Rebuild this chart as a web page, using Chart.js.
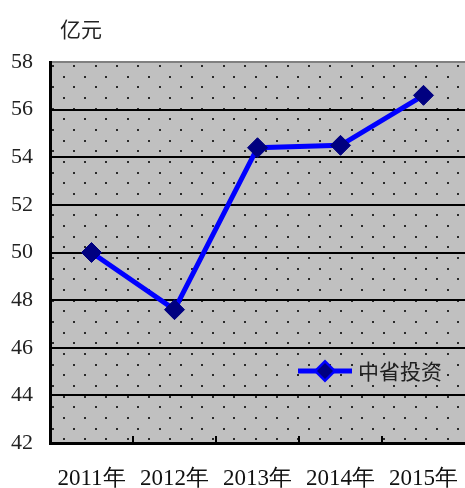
<!DOCTYPE html>
<html>
<head>
<meta charset="utf-8">
<script src="https://cdn.jsdelivr.net/npm/chart.js@4"></script>
<style>
  html, body { margin: 0; padding: 0; background: #fff; overflow: hidden; }
  #wrap { width: 465px; height: 488px; position: relative; }
  canvas { display: block; }
</style>
</head>
<body>
<div id="wrap"><canvas id="c"></canvas></div>
<script>
// ── DATA ──
const years = ['2011年', '2012年', '2013年', '2014年', '2015年'];
const invest = [50.0, 47.6, 54.4, 54.5, 56.6];
const seriesName = '中省投资';
const unitLabel = '亿元';
const yMin = 42, yMax = 58, yStep = 2;

const cjk = '"Noto Sans CJK SC", sans-serif';
const serif = '"Liberation Serif", "DejaVu Serif", serif';

// ── BACKGROUND: grey with staggered dots ──
const dotted = {
  id: 'dotted',
  beforeDraw(chart) {
    const { ctx, chartArea: a } = chart;
    ctx.save();
    ctx.fillStyle = '#c0c0c0';
    ctx.fillRect(a.left, a.top, a.right - a.left, a.bottom - a.top);
    ctx.fillStyle = '#2a2a2a';
    const sx = 21.33, sy = 10.67;
    for (let j = 0, y = a.top + 3; y < a.bottom; j++, y += sy) {
      for (let x = a.left + 2 + (j % 2) * sx / 2; x < a.right; x += sx) {
        ctx.fillRect(Math.round(x), Math.round(y), 2, 2);
      }
    }
    ctx.restore();
  },
  afterDatasetsDraw(chart) {
    // short category ticks rising from the bottom axis
    const { ctx, chartArea: a, scales: { x } } = chart;
    ctx.save();
    ctx.strokeStyle = '#000';
    ctx.lineWidth = 2;
    for (let i = 0; i < years.length - 1; i++) {
      const px = Math.round((x.getPixelForValue(i) + x.getPixelForValue(i + 1)) / 2);
      ctx.beginPath();
      ctx.moveTo(px, a.bottom);
      ctx.lineTo(px, a.bottom - 7);
      ctx.stroke();
    }
    ctx.restore();
  },
  afterDraw(chart) {
    const { ctx } = chart;
    ctx.save();
    // unit label
    ctx.fillStyle = '#222';
    ctx.font = '21px ' + cjk;
    ctx.textBaseline = 'middle';
    ctx.fillText(unitLabel, 60, 29);
    // legend
    const ly = 371;
    ctx.strokeStyle = '#0000ff';
    ctx.lineWidth = 5;
    ctx.beginPath();
    ctx.moveTo(298, ly);
    ctx.lineTo(352, ly);
    ctx.stroke();
    Chart.helpers.drawPoint(ctx, { pointStyle: 'rectRot', radius: 8, borderWidth: 1 }, 325, ly);
    ctx.fillStyle = '#000080';
    ctx.fill();
    ctx.fillStyle = '#222';
    ctx.font = '21px ' + cjk;
    ctx.fillText(seriesName, 358, ly);
    ctx.restore();
  }
};

new Chart(document.getElementById('c'), {
  type: 'line',
  data: {
    labels: years,
    datasets: [{
      label: seriesName,
      data: invest,
      borderColor: '#0000ff',
      borderWidth: 5,
      pointStyle: 'rectRot',
      pointRadius: 10,
      pointBackgroundColor: '#000080',
      pointBorderColor: '#000080',
      pointBorderWidth: 1,
      tension: 0
    }]
  },
  options: {
    responsive: true,
    maintainAspectRatio: false,
    animation: false,
    layout: { autoPadding: false, padding: { top: 62, right: 0, left: 0, bottom: 0 } },
    plugins: { legend: { display: false }, tooltip: { enabled: false } },
    scales: {
      x: {
        offset: true,
        grid: { display: false },
        border: { display: true, color: '#000', width: 3 },
        ticks: { color: '#111', padding: 14, font: { family: serif, size: 23 } },
        afterFit: s => { s.height = 45; s.paddingLeft = 0; s.paddingRight = 0; }
      },
      y: {
        min: yMin, max: yMax,
        ticks: { stepSize: yStep, color: '#222', padding: 17, font: { family: serif, size: 22 } },
        grid: {
          drawTicks: false,
          lineWidth: 2,
          color: c => c.tick && c.tick.value === yMax ? '#808080' : '#000'
        },
        border: { display: true, color: '#000', width: 3 },
        afterFit: s => { s.width = 50; }
      }
    }
  },
  plugins: [dotted]
});
</script>
</body>
</html>
